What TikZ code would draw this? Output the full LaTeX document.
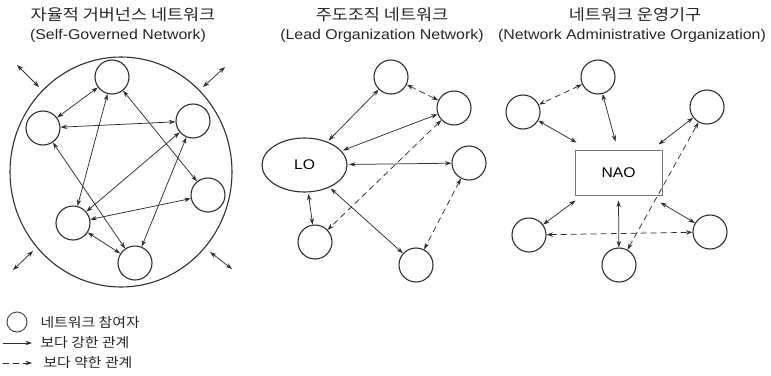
\documentclass[tikz,border=0pt]{standalone}
\usepackage{fontspec}
\setmainfont[FakeStretch=1.12]{Liberation Sans}
\newfontfamily\kr[FakeStretch=1.12]{Noto Sans CJK KR}
\usetikzlibrary{arrows.meta,shapes.geometric}
\definecolor{ink}{HTML}{2E2E2E}
\tikzset{
  member/.style={circle, draw=ink, line width=1.1pt, minimum size=34pt, inner sep=0pt},
  tip/.tip={Stealth[length=6.5pt,width=4.4pt]},
  strong/.style={draw=ink, line width=0.75pt, tip-tip},
  weak/.style={strong, dash pattern=on 6pt off 4pt},
  ttl/.style={text=black!85, font=\kr\fontsize{15.6}{18}\selectfont},
  subttl/.style={text=black!85, font=\fontsize{14.2}{17}\selectfont},
  legend/.style={text=black!85, anchor=west, font=\kr\fontsize{13.3}{15}\selectfont},
}
\begin{document}
\begin{tikzpicture}[x=1pt, y=-1pt]
\useasboundingbox (0,0) rectangle (771,375);

% ---------- self-governed network ----------
\node[ttl] (t1) at (123,15) {자율적 거버넌스 네트워크};
\node[subttl] (s1) at (118,36) {(Self-Governed Network)};
\node[ellipse, draw=ink, line width=1.1pt, minimum width=222pt, minimum height=230pt, inner sep=0pt] (ring) at (121,172) {};
\node[member] (a1) at (112,77) {};
\node[member] (a2) at (43,128) {};
\node[member] (a3) at (193,121) {};
\node[member] (a4) at (208,195) {};
\node[member] (a5) at (73,223) {};
\node[member] (a6) at (135,263) {};
\draw[strong] (a1) -- (a2);
\draw[strong] (a2) -- (a3);
\draw[strong] (a1) -- (a5);
\draw[strong] (a1) -- (a4);
\draw[strong] (a2) -- (a6);
\draw[strong] (a3) -- (a5);
\draw[strong] (a3) -- (a6);
\draw[strong] (a4) -- (a5);
\draw[strong] (a5) -- (a6);
% exchanges with the environment
\coordinate (o1a) at (17,65);  \coordinate (o1b) at (39,87);
\coordinate (o2a) at (225,67); \coordinate (o2b) at (203,87);
\coordinate (o3a) at (13,270); \coordinate (o3b) at (33,251);
\coordinate (o4a) at (232,269);\coordinate (o4b) at (210,252);
\draw[strong] (o1a) -- (o1b);
\draw[strong] (o2a) -- (o2b);
\draw[strong] (o3a) -- (o3b);
\draw[strong] (o4a) -- (o4b);

% ---------- lead organization network ----------
\node[ttl] (t2) at (382,15) {주도조직 네트워크};
\node[subttl] (s2) at (382,36) {(Lead Organization Network)};
\node[ellipse, draw=ink, line width=1.1pt, minimum width=85pt, minimum height=54pt, inner sep=0pt, outer sep=2pt,
      font=\fontsize{14}{16}\selectfont] (lo) at (304.5,165) {LO};
\node[member] (b1) at (391,77) {};
\node[member] (b2) at (454,108) {};
\node[member] (b3) at (469,163) {};
\node[member] (b4) at (315,242) {};
\node[member] (b5) at (416,265) {};
\draw[strong] (lo) -- (b1);
\draw[strong] (lo) -- (b2);
\draw[strong] (lo) -- (b3);
\draw[strong] (lo) -- (b4);
\draw[strong] (lo) -- (b5);
\draw[weak] (b1) -- (b2);
\draw[weak] (b2) -- (b4);
\draw[weak] (b3) -- (b5);

% ---------- network administrative organization ----------
\node[ttl] (t3) at (635,15) {네트워크 운영기구};
\node[subttl] (s3) at (632,36) {(Network Administrative Organization)};
\node[rectangle, draw=black!55, line width=1pt, minimum width=87pt, minimum height=45pt, inner sep=0pt,
      font=\fontsize{14}{16}\selectfont] (nao) at (618.5,172.5) {NAO};
\node[member] (c1) at (598,77) {};
\node[member] (c2) at (523,112) {};
\node[member] (c3) at (707,107) {};
\node[member] (c4) at (529,235) {};
\node[member] (c5) at (619,265) {};
\node[member] (c6) at (710,232) {};
\coordinate (nw) at ([shift={(2,-7)}]nao.north west);
\coordinate (nn) at ([shift={(-3,-8)}]nao.north);
\coordinate (ne) at ([shift={(-4,-5)}]nao.north east);
\coordinate (sw) at ([shift={(1,5)}]nao.south west);
\coordinate (ss) at ([shift={(0,5)}]nao.south);
\coordinate (se) at ([shift={(-2,7)}]nao.south east);
\draw[strong] (c2) -- (nw);
\draw[strong] (c1) -- (nn);
\draw[strong] (c3) -- (ne);
\draw[strong] (sw) -- (c4);
\draw[strong] (ss) -- (c5);
\draw[strong] (se) -- (c6);
\draw[weak] (c1) -- (c2);
\draw[weak] (c4) -- (c6);
\draw[weak] (c5) -- (c3);

% ---------- legend ----------
\node[circle, draw=black!70, line width=1pt, minimum size=20pt, inner sep=0pt] (lg1) at (17,322) {};
\node[legend] (lt1) at (37,322) {네트워크 참여자};
\coordinate (ls1) at (3,343); \coordinate (le1) at (32,343);
\draw[draw=ink, line width=0.75pt, -tip] (ls1) -- (le1);
\node[legend] (lt2) at (37,343) {보다 강한 관계};
\coordinate (ls2) at (3,363); \coordinate (le2) at (32,363);
\draw[draw=ink, line width=0.75pt, -tip, dash pattern=on 6pt off 4pt] (ls2) -- (le2);
\node[legend] (lt3) at (40,363) {보다 약한 관계};
\end{tikzpicture}
\end{document}
